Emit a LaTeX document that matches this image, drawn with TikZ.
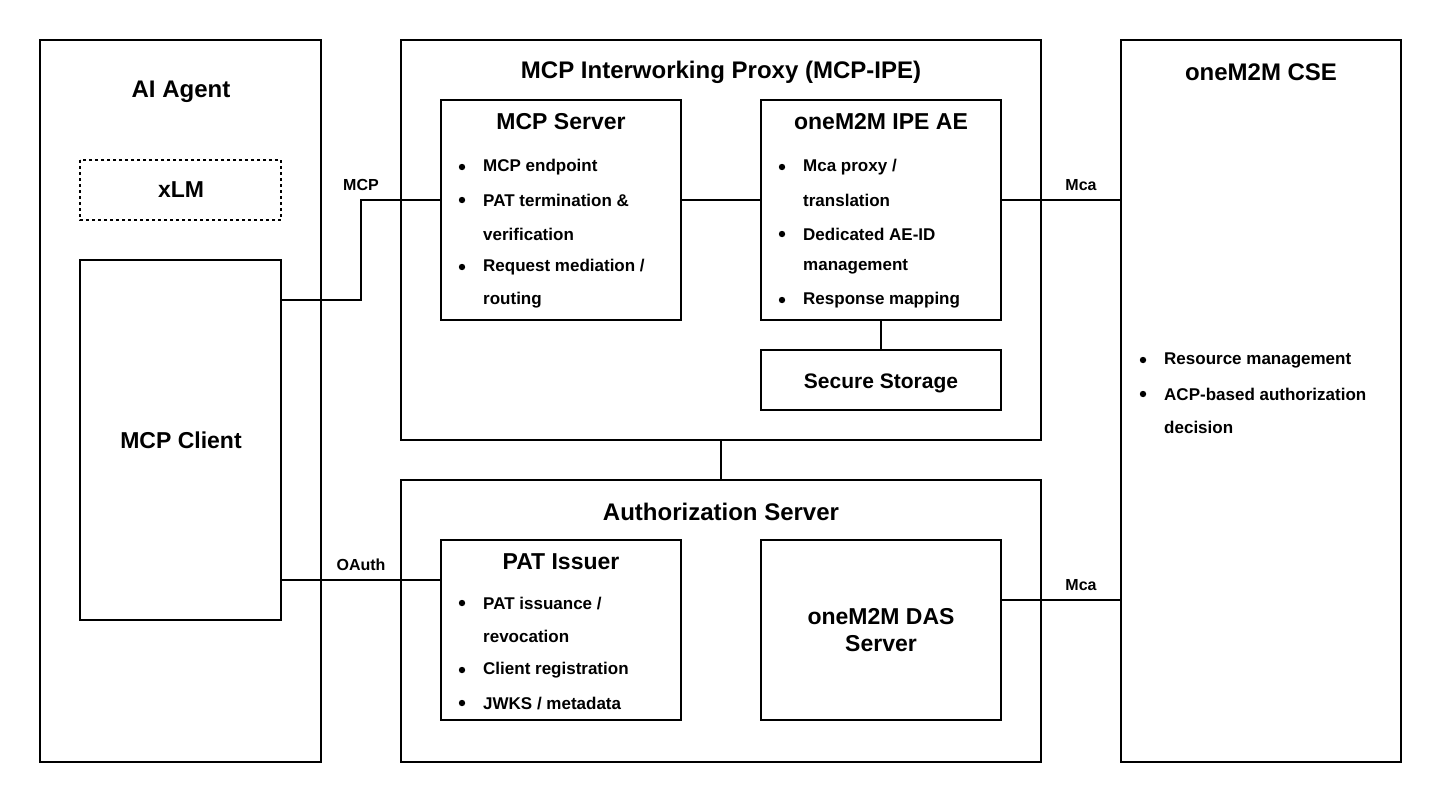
\documentclass[tikz,border=0pt]{standalone}
\usepackage{fontspec}
\setmainfont{Liberation Sans}
\begin{document}
\begin{tikzpicture}[x=1pt,y=-1pt,
 box/.style={draw,line width=2.5pt},
 ttl/.style={font=\fontsize{24}{28}\selectfont\bfseries},
 sub/.style={font=\fontsize{23}{27}\selectfont\bfseries},
 itm/.style={font=\fontsize{17}{20}\selectfont\bfseries,anchor=west,inner sep=0},
 lbl/.style={font=\fontsize{16}{19}\selectfont\bfseries},
 con/.style={line width=2.5pt}]
\fill[white] (0,0) rectangle (1443,804);
\useasboundingbox (0,0) rectangle (1443,804);
\newcommand\bul[3]{\fill (#1,#2) circle (3.2); \node[itm] at (#1+21,#2) {#3};}
% AI Agent
\draw[box] (40,40) rectangle (321,762);
\node[ttl] at (181,92) {AI Agent};
\draw[box,dashed] (80,160) rectangle (281,220);
\node[sub] (xlm) at (181,190) {xLM};
\draw[box] (80,260) rectangle (281,620);
\node[sub] at (181,440) {MCP Client};
\coordinate (mc1) at (281,300);
\coordinate (mc2) at (281,580);
% IPE
\draw[box] (401,40) rectangle (1041,440);
\node[ttl] at (721,72) {MCP Interworking Proxy (MCP-IPE)};
\draw[box] (441,100) rectangle (681,320);
\node[sub] at (561,122) {MCP Server};
\bul{462}{167}{MCP endpoint}
\bul{462}{200}{PAT termination \&}
\node[itm] at (483,234) {verification};
\bul{462}{267}{Request mediation /}
\node[itm] at (483,300) {routing};
\draw[box] (761,100) rectangle (1001,320);
\node[sub] at (881,122) {oneM2M IPE AE};
\bul{782}{167}{Mca proxy /}
\node[itm] at (803,200) {translation};
\bul{782}{234}{Dedicated AE-ID}
\node[itm] at (803,267) {management};
\bul{782}{300}{Response mapping};
\draw[box] (761,350) rectangle (1001,410);
\node[sub,font=\fontsize{21}{25}\selectfont\bfseries] at (881,383) {Secure Storage};
% Auth
\draw[box] (401,480) rectangle (1041,762);
\node[ttl] at (721,512) {Authorization Server};
\draw[box] (441,540) rectangle (681,720);
\node[sub] at (561,562) {PAT Issuer};
\bul{462}{603}{PAT issuance /}
\node[itm] at (483,636) {revocation};
\bul{462}{670}{Client registration}
\bul{462}{703}{JWKS / metadata}
\draw[box] (761,540) rectangle (1001,720);
\node[sub,align=center] at (881,630) {oneM2M DAS\\Server};
% CSE
\draw[box] (1121,40) rectangle (1401,762);
\node[ttl] at (1261,72) {oneM2M CSE};
\bul{1143}{360}{Resource management}
\bul{1143}{394}{ACP-based authorization}
\node[itm] at (1164,427) {decision};
% connectors
\draw[con] (281,300) -- (361,300) -- (361,200) -- (441,200);
\node[lbl] at (361,185) {MCP};
\draw[con] (681,200) -- (761,200);
\draw[con] (1001,200) -- (1121,200);
\node[lbl] at (1081,185) {Mca};
\draw[con] (881,320) -- (881,350);
\draw[con] (721,440) -- (721,480);
\draw[con] (281,580) -- (441,580);
\node[lbl] at (361,565) {OAuth};
\draw[con] (1001,600) -- (1121,600);
\node[lbl] at (1081,585) {Mca};
\end{tikzpicture}
\end{document}
